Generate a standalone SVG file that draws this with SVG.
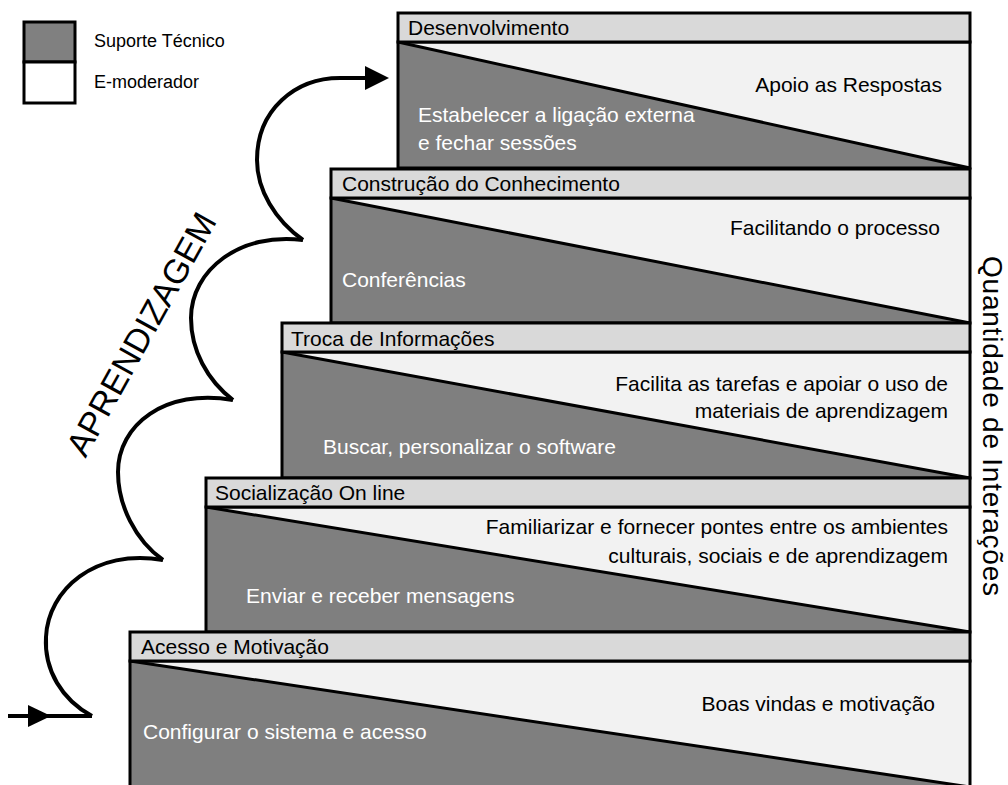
<svg xmlns="http://www.w3.org/2000/svg" width="1008" height="785" viewBox="0 0 1008 785">
<style>
text{font-family:"Liberation Sans",Arial,sans-serif;}
.hdr{fill:#d9d9d9;stroke:#000;stroke-width:3}
.lt{fill:#f2f2f2}
.dk{fill:#7f7f7f}
.diag{stroke:#000;stroke-width:3;fill:none}
.box{fill:none;stroke:#000;stroke-width:3}
.ht{font-size:21px;fill:#000}
.bt{font-size:21px;fill:#000}
.wt{font-size:21px;fill:#fff}
.arc{fill:none;stroke:#000;stroke-width:4;stroke-linecap:butt}
</style>
<rect width="1008" height="785" fill="#fff"/>
<g id="legend">
<rect x="24" y="22" width="51" height="40" fill="#808080" stroke="#000" stroke-width="3"/>
<rect x="24" y="62" width="51" height="41" fill="#fff" stroke="#000" stroke-width="3"/>
<text x="94" y="47" style="font-size:18px">Suporte Técnico</text>
<text x="94" y="88" style="font-size:18px">E-moderador</text>
</g>
<g id="step5">
<rect class="lt" x="398" y="42" width="572" height="126"/>
<polygon class="dk" points="398,42 970,168 398,168"/>
<line class="diag" x1="398" y1="42" x2="970" y2="168"/>
<rect class="box" x="398" y="42" width="572" height="126"/>
<rect class="hdr" x="398" y="13" width="572" height="29"/>
<text class="ht" x="408" y="35">Desenvolvimento</text>
<text class="bt" x="942" y="92" text-anchor="end">Apoio as Respostas</text>
<text class="wt" x="418" y="122">Estabelecer  a ligação externa</text>
<text class="wt" x="418" y="150">e fechar sessões</text>
</g>
<g id="step4">
<rect class="lt" x="331" y="198" width="639" height="125"/>
<polygon class="dk" points="331,198 970,323 331,323"/>
<line class="diag" x1="331" y1="198" x2="970" y2="323"/>
<rect class="box" x="331" y="198" width="639" height="125"/>
<rect class="hdr" x="331" y="169" width="639" height="29"/>
<text class="ht" x="342" y="191">Construção do Conhecimento</text>
<text class="bt" x="940" y="235" text-anchor="end">Facilitando o processo</text>
<text class="wt" x="342" y="287">Conferências</text>
</g>
<g id="step3">
<rect class="lt" x="282" y="352" width="688" height="126"/>
<polygon class="dk" points="282,352 970,478 282,478"/>
<line class="diag" x1="282" y1="352" x2="970" y2="478"/>
<rect class="box" x="282" y="352" width="688" height="126"/>
<rect class="hdr" x="282" y="323" width="688" height="29"/>
<text class="ht" x="291" y="346">Troca de Informações</text>
<text class="bt" x="948" y="391" text-anchor="end">Facilita as tarefas e apoiar o uso de</text>
<text class="bt" x="948" y="418" text-anchor="end">materiais de aprendizagem</text>
<text class="wt" x="323" y="454">Buscar, personalizar o software</text>
</g>
<g id="step2">
<rect class="lt" x="206" y="507" width="764" height="125"/>
<polygon class="dk" points="206,507 970,632 206,632"/>
<line class="diag" x1="206" y1="507" x2="970" y2="632"/>
<rect class="box" x="206" y="507" width="764" height="125"/>
<rect class="hdr" x="206" y="478" width="764" height="29"/>
<text class="ht" x="215" y="500">Socialização On line</text>
<text class="bt" x="948" y="534" text-anchor="end">Familiarizar e fornecer pontes entre os ambientes</text>
<text class="bt" x="948" y="563" text-anchor="end">culturais, sociais e de aprendizagem</text>
<text class="wt" x="246" y="603">Enviar e receber mensagens</text>
</g>
<g id="step1">
<rect class="lt" x="130" y="661" width="840" height="130"/>
<polygon class="dk" points="130,661 970,787 970,791 130,791"/>
<line class="diag" x1="130" y1="661" x2="970" y2="787"/>
<rect class="box" x="130" y="661" width="840" height="130"/>
<rect class="hdr" x="130" y="632" width="840" height="29"/>
<text class="ht" x="141" y="654">Acesso e Motivação</text>
<text class="bt" x="935" y="711" text-anchor="end">Boas vindas e motivação</text>
<text class="wt" x="143" y="739">Configurar o sistema e acesso</text>
</g>
<g id="connectors">
<path class="arc" d="M8,716 L92,716"/>
<polygon points="28,705 51,716 28,727" fill="#000"/>
<path class="arc" d="M92,716 C62,700 44,670 46,637 C48,590 95,548 163,560"/>
<path class="arc" d="M163,560 C135,540 118,505 118,472 C118,425 165,388 233,400"/>
<path class="arc" d="M233,400 C207,380 191,350 191,318 C191,270 240,232 303,240"/>
<path class="arc" d="M303,240 C275,220 257,190 257,160 C257,110 295,78 340,78 L368,78"/>
<polygon points="365,66 389,78 365,90" fill="#000"/>
</g>
<g id="labels">
<text transform="translate(141,334) rotate(-61)" x="0" y="12" text-anchor="middle" style="font-size:34px">APRENDIZAGEM</text>
<text transform="translate(983,256) rotate(90)" style="font-size:28px" textLength="340" lengthAdjust="spacing">Quantidade de Interações</text>
</g>
</svg>
